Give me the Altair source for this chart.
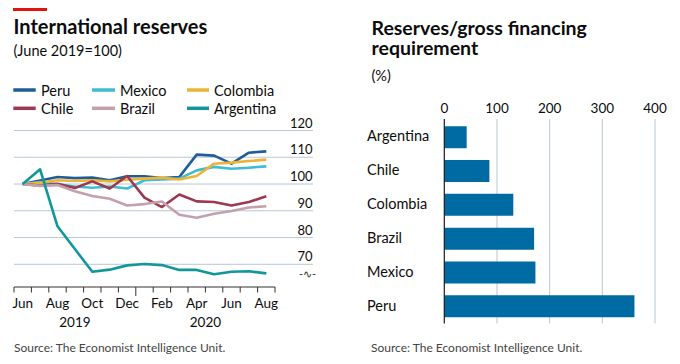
import altair as alt
import pandas as pd

# ---------------- data ----------------
month_labels = ["Jun", "Jul", "Aug", "Sep", "Oct", "Nov", "Dec",
                "Jan", "Feb", "Mar", "Apr", "May", "Jun", "Jul", "Aug"]
month_index = list(range(15))

peru = [100, 101.3, 102.6, 102.2, 102.4, 101.4, 102.9, 102.9, 102.2, 102.6, 111.0, 110.6, 107.6, 111.7, 112.2]
mexico = [100, 100.7, 99.9, 99.1, 98.6, 99.1, 98.3, 101.4, 101.7, 102.0, 105.1, 106.4, 105.7, 106.1, 106.6]
colombia = [100, 100.5, 101.4, 101.1, 101.4, 101.0, 101.6, 102.0, 102.4, 101.7, 103.0, 107.6, 108.0, 108.6, 109.1]
chile = [100, 99.4, 100.1, 98.5, 101.0, 98.3, 103.0, 94.9, 91.4, 96.1, 93.5, 93.3, 92.0, 93.3, 95.4]
brazil = [100, 99.3, 99.6, 97.3, 95.5, 94.5, 92.0, 92.5, 93.5, 88.5, 87.4, 88.9, 89.9, 91.2, 91.7]
argentina = [100, 105.5, 84.2, 75.7, 67.2, 68.0, 69.6, 70.1, 69.7, 67.9, 67.9, 66.3, 67.2, 67.4, 66.6]

line_countries = ["Peru", "Mexico", "Colombia", "Chile", "Brazil", "Argentina"]
line_series = [peru, mexico, colombia, chile, brazil, argentina]
line_colors = ["#1F5C99", "#3EBCD2", "#EBB434", "#9C3950", "#C3A1AC", "#11979B"]

y_ticks_left = [70, 80, 90, 100, 110, 120]
month_tick_pos = [0, 2, 4, 6, 8, 10, 12, 14]
month_tick_text = ["Jun", "Aug", "Oct", "Dec", "Feb", "Apr", "Jun", "Aug"]
month_bounds = [-0.5, 0.5, 1.5, 2.5, 3.5, 4.5, 5.5, 7.5, 8.5, 9.5, 10.5, 11.5, 12.5, 13.5, 14.5]
year_bound = [6.5]
year_pos = [3, 10.5]
year_text = ["2019", "2020"]

bar_countries = ["Argentina", "Chile", "Colombia", "Brazil", "Mexico", "Peru"]
bar_values = [42.5, 85.6, 131, 170.5, 173, 361]
x_ticks_right = [0, 100, 200, 300, 400]

# ---------------- style ----------------
FONT = "Lato"
TXT = "#0C0C0C"
GRID = "#B9C8D1"
BAR = "#006BA2"

df_lines = pd.DataFrame({
    "m": month_index * len(line_countries),
    "country": [c for c in line_countries for _ in month_index],
    "value": [v for s in line_series for v in s],
})

xL = alt.Scale(domain=[-0.5, 14.5], range=[6, 267], nice=False, zero=False)
yL = alt.Scale(domain=[70, 120], range=[256.3, 122.5], nice=False, zero=False)
xR = alt.Scale(domain=[0, 400], range=[436.3, 647], nice=False, zero=False)
yR = alt.Scale(domain=bar_countries, range=[111.5, 316], paddingInner=0.35, paddingOuter=0.2)

layers = []


def text_layer(txt, x, y, size=13, weight="normal", color=TXT, align="left", **kw):
    return alt.Chart(pd.DataFrame({"t": [txt]})).mark_text(
        font=FONT, fontSize=size, fontWeight=weight, color=color, align=align, baseline="alphabetic", **kw
    ).encode(text="t:N", x=alt.value(x), y=alt.value(y))


# red tag
layers.append(alt.Chart(pd.DataFrame({"a": [0]})).mark_rect(color="#E3120B").encode(
    x=alt.value(5), x2=alt.value(39), y=alt.value(0), y2=alt.value(3)))

# titles
layers.append(text_layer("International reserves", 5.5, 26, size=20, weight="bold"))
layers.append(text_layer("(June 2019=100)", 5.5, 48, size=14.5))
layers.append(text_layer("Reserves/gross financing\nrequirement", 363.5, 27, size=19.5, weight="bold",
                         lineBreak="\n", lineHeight=19.5))
layers.append(text_layer("(%)", 363.5, 73, size=14.5))
layers.append(text_layer("Source: The Economist Intelligence Unit.", 6, 344, size=12, color="#444444"))
layers.append(text_layer("Source: The Economist Intelligence Unit.", 363, 344, size=12, color="#444444"))

# legend (manual)
legend_cols = [(5.3, 27.7, 33), (84, 107, 112), (179, 201, 206)]
legend_rows = [(82, 87.5), (100.3, 106)]
for i, (name, col) in enumerate(zip(line_countries, line_colors)):
    cx0, cx1, tx = legend_cols[i % 3]
    sy, ty = legend_rows[i // 3]
    layers.append(alt.Chart(pd.DataFrame({"a": [0]})).mark_rule(color=col, strokeWidth=3.5).encode(
        x=alt.value(cx0), x2=alt.value(cx1), y=alt.value(sy)))
    layers.append(text_layer(name, tx, ty, size=14.5))

# left gridlines and labels
df_gl = pd.DataFrame({"v": y_ticks_left, "t": [str(v) for v in y_ticks_left]})
layers.append(alt.Chart(df_gl).mark_rule(color=GRID, strokeWidth=1).encode(
    y=alt.Y("v:Q", scale=yL, axis=None), x=alt.value(6), x2=alt.value(305)))
layers.append(alt.Chart(df_gl).mark_text(font=FONT, fontSize=13, color=TXT, align="right",
                                         baseline="alphabetic", dy=-3).encode(
    y=alt.Y("v:Q", scale=yL, axis=None), x=alt.value(304.5), text="t:N"))
layers.append(text_layer("-\u223f-", 299.5, 270, size=11, color="#333333", align="center"))

# lines
layers.append(alt.Chart(df_lines).mark_line(strokeWidth=2.6, strokeJoin="round").encode(
    x=alt.X("m:Q", scale=xL, axis=None),
    y=alt.Y("value:Q", scale=yL, axis=None),
    color=alt.Color("country:N", scale=alt.Scale(domain=line_countries, range=line_colors), legend=None),
))

# x axis of left chart
layers.append(alt.Chart(pd.DataFrame({"a": [0]})).mark_rule(color="#333333", strokeWidth=1).encode(
    x=alt.value(6), x2=alt.value(267), y=alt.value(279)))
layers.append(alt.Chart(pd.DataFrame({"b": month_bounds})).mark_rule(color="#333333", strokeWidth=1).encode(
    x=alt.X("b:Q", scale=xL, axis=None), y=alt.value(279), y2=alt.value(284.5)))
layers.append(alt.Chart(pd.DataFrame({"b": year_bound})).mark_rule(color="#333333", strokeWidth=1).encode(
    x=alt.X("b:Q", scale=xL, axis=None), y=alt.value(279), y2=alt.value(288)))
layers.append(alt.Chart(pd.DataFrame({"p": month_tick_pos, "t": month_tick_text})).mark_text(
    font=FONT, fontSize=13.5, color=TXT, align="center", baseline="alphabetic").encode(
    x=alt.X("p:Q", scale=xL, axis=None), y=alt.value(300), text="t:N"))
layers.append(alt.Chart(pd.DataFrame({"p": year_pos, "t": year_text})).mark_text(
    font=FONT, fontSize=13.5, color=TXT, align="center", baseline="alphabetic").encode(
    x=alt.X("p:Q", scale=xL, axis=None), y=alt.value(319), text="t:N"))

# right chart
df_bar = pd.DataFrame({"country": bar_countries, "value": bar_values})
df_xr = pd.DataFrame({"v": x_ticks_right, "t": [str(v) for v in x_ticks_right]})
layers.append(alt.Chart(df_xr[df_xr.v > 0]).mark_rule(color=GRID, strokeWidth=1).encode(
    x=alt.X("v:Q", scale=xR, axis=None), y=alt.value(111), y2=alt.value(315.5)))
layers.append(alt.Chart(df_xr).mark_text(font=FONT, fontSize=13.5, color=TXT, align="center",
                                         baseline="alphabetic").encode(
    x=alt.X("v:Q", scale=xR, axis=None), y=alt.value(105), text="t:N"))
layers.append(alt.Chart(df_bar).mark_bar(color=BAR).encode(
    x=alt.X("value:Q", scale=xR, axis=None),
    y=alt.Y("country:N", scale=yR, sort=bar_countries, axis=None)))
layers.append(alt.Chart(df_bar).mark_text(font=FONT, fontSize=14.5, color=TXT, align="left",
                                          baseline="middle").encode(
    y=alt.Y("country:N", scale=yR, sort=bar_countries, axis=None), x=alt.value(359), text="country:N"))
layers.append(alt.Chart(df_xr[df_xr.v == 0]).mark_rule(color="#1A1A1A", strokeWidth=1.2).encode(
    x=alt.X("v:Q", scale=xR, axis=None), y=alt.value(111), y2=alt.value(315.5)))

chart = alt.layer(*layers).resolve_scale(
    x="independent", y="independent", color="independent"
).properties(
    width=664, height=348, padding=0,
    autosize=alt.AutoSizeParams(type="none"),
).configure_view(stroke=None)

chart.save("out.html", embed_options={"renderer": "svg", "actions": False})
